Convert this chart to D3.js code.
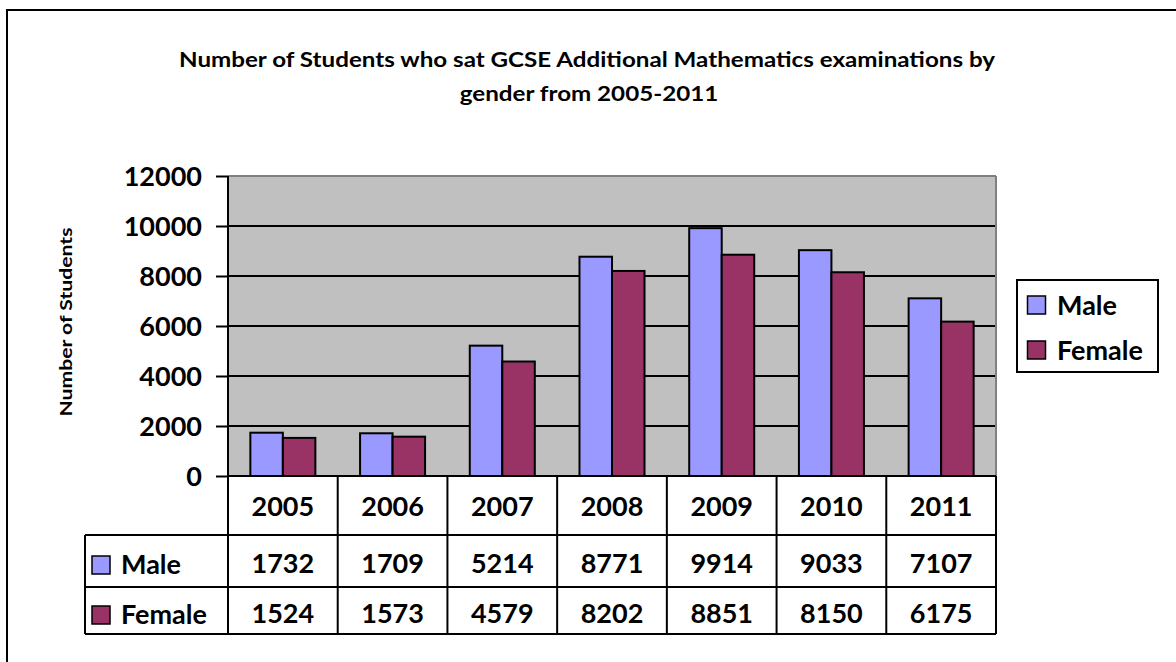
<!DOCTYPE html>
<html><head><meta charset="utf-8">
<script src="https://cdn.jsdelivr.net/npm/d3@7"></script>
<style>
html,body{margin:0;padding:0;background:#fff;}
text{font-family:Lato,"Open Sans",sans-serif;font-weight:700;fill:#000;}
</style></head>
<body><svg id="c" width="1176" height="662"></svg>
<script>
const years = ["2005","2006","2007","2008","2009","2010","2011"];
const male = [1732,1709,5214,8771,9914,9033,7107];
const female = [1524,1573,4579,8202,8851,8150,6175];
const seriesNames = ["Male","Female"];
const seriesColors = ["#9999FF","#993366"];
const yTicks = [0,2000,4000,6000,8000,10000,12000];
const titleLines = ["Number of Students who sat GCSE Additional Mathematics examinations by","gender from 2005-2011"];
const yTitle = "Number of Students";

const svg = d3.select("#c");
svg.append("rect").attr("width",1176).attr("height",662).attr("fill","#fff");
svg.append("rect").attr("x",7).attr("y",10).attr("width",1200).attr("height",700)
  .attr("fill","none").attr("stroke","#000").attr("stroke-width",2);

const plotL=228, plotR=996, plotT=176, plotB=476;
const x = d3.scaleBand().domain(years).range([plotL,plotR]);
const xs = d3.scaleBand().domain(seriesNames).range([0,x.bandwidth()]).paddingOuter(0.6875);
const y = d3.scaleLinear().domain([0,12000]).range([plotB,plotT]);

// title (compressed horizontally to mimic a narrow font)
const t1 = svg.append("text").attr("x",587).attr("y",67).attr("text-anchor","middle").attr("font-size",21.5).text(titleLines[0]);
const w1 = t1.node().getComputedTextLength();
const ratio = 816 / w1;
t1.attr("textLength",816).attr("lengthAdjust","spacingAndGlyphs");
const t2 = svg.append("text").attr("x",589).attr("y",101).attr("text-anchor","middle").attr("font-size",21.5).text(titleLines[1]);
const w2 = t2.node().getComputedTextLength();
t2.attr("textLength",w2*ratio).attr("lengthAdjust","spacingAndGlyphs");

// y title
const yt = svg.append("text").attr("transform","translate(72,322) rotate(-90)").attr("text-anchor","middle").attr("font-size",17).text(yTitle);
yt.attr("textLength",189).attr("lengthAdjust","spacingAndGlyphs");

// plot bg
svg.append("rect").attr("x",plotL).attr("y",plotT).attr("width",plotR-plotL).attr("height",plotB-plotT).attr("fill","#C0C0C0");
// gridlines
svg.append("g").selectAll("line").data(yTicks.filter(v=>v>0 && v<12000)).join("line")
  .attr("x1",plotL).attr("x2",plotR).attr("y1",d=>y(d)).attr("y2",d=>y(d))
  .attr("stroke","#000").attr("stroke-width",2);
svg.append("line").attr("x1",plotL).attr("x2",plotR).attr("y1",plotT).attr("y2",plotT).attr("stroke","#808080").attr("stroke-width",2);
svg.append("line").attr("x1",plotR).attr("x2",plotR).attr("y1",plotT).attr("y2",plotB).attr("stroke","#808080").attr("stroke-width",2);

// bars
const data = years.map((yr,i)=>({yr, vals:[male[i],female[i]]}));
const g = svg.append("g").selectAll("g").data(data).join("g").attr("transform",d=>`translate(${x(d.yr)},0)`);
g.selectAll("rect").data(d=>d.vals.map((v,j)=>({v,name:seriesNames[j],c:seriesColors[j]}))).join("rect")
  .attr("x",d=>xs(d.name)).attr("width",xs.bandwidth())
  .attr("y",d=>y(d.v)).attr("height",d=>plotB-y(d.v))
  .attr("fill",d=>d.c).attr("stroke","#000").attr("stroke-width",2);

// y axis
const ax = svg.append("g").attr("transform",`translate(${plotL},0)`)
  .call(d3.axisLeft(y).tickValues(yTicks).tickFormat(d3.format("d")).tickSize(12).tickSizeOuter(0).tickPadding(14));
ax.select(".domain").remove();
ax.selectAll(".tick line").attr("stroke","#000").attr("stroke-width",2);
ax.selectAll(".tick text").attr("font-size",27).attr("font-family","Lato").attr("font-weight",700).attr("dy","0.36em");

// axis lines
svg.append("line").attr("x1",plotL).attr("x2",plotR).attr("y1",plotB).attr("y2",plotB).attr("stroke","#000").attr("stroke-width",2);
svg.append("line").attr("x1",plotL).attr("x2",plotL).attr("y1",plotT).attr("y2",634).attr("stroke","#000").attr("stroke-width",2);

// data table
const rowBot=634, tabL=85;
const tbl = svg.append("g");
tbl.selectAll("line.v").data(years).join("line")
  .attr("x1",d=>x(d)+x.bandwidth()).attr("x2",d=>x(d)+x.bandwidth()).attr("y1",plotB).attr("y2",rowBot)
  .attr("stroke","#000").attr("stroke-width",2);
[535,587,634].forEach(yy=>tbl.append("line").attr("x1",tabL).attr("x2",plotR).attr("y1",yy).attr("y2",yy).attr("stroke","#000").attr("stroke-width",2));
tbl.append("line").attr("x1",tabL).attr("x2",tabL).attr("y1",535).attr("y2",rowBot).attr("stroke","#000").attr("stroke-width",2);
const cellFs = 27;
tbl.selectAll("text.yr").data(years).join("text").attr("class","yr")
  .attr("x",d=>x(d)+x.bandwidth()/2).attr("y",516).attr("text-anchor","middle").attr("font-size",cellFs).text(d=>d);
const rowsData = [male,female];
const rowBase = [573,623];
rowsData.forEach((arr,r)=>{
  tbl.append("g").selectAll("text").data(arr).join("text")
    .attr("x",(d,i)=>x(years[i])+x.bandwidth()/2).attr("y",rowBase[r]).attr("text-anchor","middle")
    .attr("font-size",cellFs).text(d=>d);
  tbl.append("rect").attr("x",92).attr("y",rowBase[r]-17).attr("width",18).attr("height",18)
    .attr("fill",seriesColors[r]).attr("stroke","#000").attr("stroke-width",1.5);
  tbl.append("text").attr("x",121).attr("y",rowBase[r]+1).attr("font-size",cellFs).text(seriesNames[r]);
});

// legend
const lg = svg.append("g");
lg.append("rect").attr("x",1017).attr("y",280).attr("width",141).attr("height",92).attr("fill","#fff").attr("stroke","#000").attr("stroke-width",2);
seriesNames.forEach((s,i)=>{
  const cy = 305 + i*45;
  lg.append("rect").attr("x",1027.5).attr("y",cy-9).attr("width",18).attr("height",18).attr("fill",seriesColors[i]).attr("stroke","#000").attr("stroke-width",1.5);
  lg.append("text").attr("x",1057).attr("y",cy+10).attr("font-size",cellFs).text(s);
});
</script></body></html>
